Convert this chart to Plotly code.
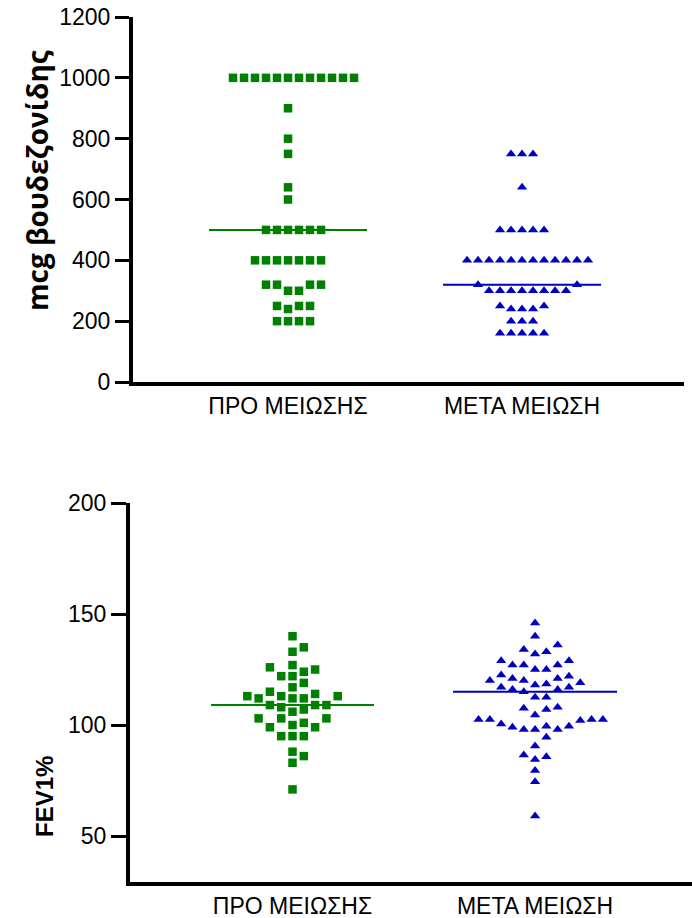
import numpy as np
import plotly.graph_objects as go

W, H = 692, 918

categories = ["ΠΡΟ ΜΕΙΩΣΗΣ", "ΜΕΤΑ ΜΕΙΩΣΗ"]

# Budesonide dose (mcg)
dose_pre = [1000, 1000, 1000, 1000, 1000, 1000, 1000, 1000, 1000, 1000, 1000, 1000,
            900, 800, 750, 640, 600,
            500, 500, 500, 500, 500, 500,
            400, 400, 400, 400, 400, 400, 400,
            320, 320, 320, 320, 300, 300,
            250, 250, 250, 240,
            200, 200, 200, 200]
dose_post = [750, 750, 750, 640,
             500, 500, 500, 500, 500,
             400, 400, 400, 400, 400, 400, 400, 400, 400, 400, 400, 400,
             320, 320,
             300, 300, 300, 300, 300, 300, 300, 300,
             250, 250, 240, 240, 240,
             200, 200, 200,
             160, 160, 160, 160, 160]

# FEV1 %
fev_pre = [140, 135, 133, 126, 127, 125, 122, 122, 124, 119, 117, 115, 114, 113, 113, 113,
           112, 112, 112, 109, 109, 109, 107, 108, 106, 103, 103, 103, 101, 99, 99, 100,
           95, 95, 95, 88, 86, 83, 71]
fev_post = [146, 140, 136, 134, 133, 132, 129, 129, 127, 127, 127, 125, 125, 122.5, 121, 122,
            121, 120, 120, 119, 118.5, 117, 116, 117, 118, 116, 115, 112.5, 112.5, 108, 107,
            107.5, 104.5, 102.5, 102.5, 100.5, 99.5, 98, 98, 98, 99, 99.5, 102, 102.5, 102.5,
            94.5, 90.5, 86.5, 84.5, 85.7, 79.5, 74.5, 59]

dose_ticks = [0, 200, 400, 600, 800, 1000, 1200]
fev_ticks = [50, 100, 150, 200]

GREEN = "#008000"
BLUE = "#0000C0"
FONT = "Liberation Sans, Arial, sans-serif"

# layout geometry (paper fractions)
top_xdom = [133 / W, 684 / W]
top_ydom = [(H - 382) / H, (H - 17) / H]
bot_xdom = [130 / W, 1.0]
bot_ydom = [(H - 882) / H, (H - 503) / H]
top_xrange = [0.3376, 2.692]
bot_xrange = [0.33, 2.647]
top_yrange = [0, 1200]
bot_yrange = [29.3, 200]


def px_per_unit(dom, rng, size):
    return (dom[1] - dom[0]) * size / (rng[1] - rng[0])


def swarm(values, ypx, step, gap):
    """Beeswarm column offsets (in column units) computed from the values."""
    vals = np.asarray(values, dtype=float)
    order = np.argsort(vals, kind="stable")
    cand = [0]
    for n in range(1, 60):
        cand += [n, -n]
    placed = []
    offs = np.zeros(len(vals))
    for i in order:
        y = vals[i] * ypx
        for c in cand:
            if all(not (pc == c and abs(py - y) < gap) for pc, py in placed):
                break
        placed.append((c, y))
        offs[i] = c
    return offs * step


fig = go.Figure()


def add_group(vals, center, xref, yref, color, symbol, size, ypx, xpx, step_px, gap_px, half_px):
    offs = swarm(vals, ypx, step_px / xpx, gap_px)
    fig.add_trace(go.Scatter(
        x=center + offs, y=vals, mode="markers", xaxis=xref, yaxis=yref,
        marker=dict(symbol=symbol, size=size, color=color, line=dict(width=0)),
        showlegend=False, hoverinfo="y", cliponaxis=False))
    med = float(np.median(vals))
    hw = half_px / xpx
    fig.add_trace(go.Scatter(
        x=[center - hw, center + hw], y=[med, med], mode="lines", xaxis=xref, yaxis=yref,
        line=dict(color=color, width=2), showlegend=False, hoverinfo="skip"))


t_xpx = px_per_unit(top_xdom, top_xrange, W)
t_ypx = px_per_unit(top_ydom, top_yrange, H)
b_xpx = px_per_unit(bot_xdom, bot_xrange, W)
b_ypx = px_per_unit(bot_ydom, bot_yrange, H)

add_group(dose_pre, 1, "x", "y", GREEN, "square", 8.5, t_ypx, t_xpx, 11, 10, 79)
add_group(dose_post, 2, "x", "y", BLUE, "triangle-up", 9, t_ypx, t_xpx, 11, 10, 79)
add_group(fev_pre, 1, "x2", "y2", GREEN, "square", 8.5, b_ypx, b_xpx, 11.3, 10, 81.5)
add_group(fev_post, 2, "x2", "y2", BLUE, "triangle-up", 9, b_ypx, b_xpx, 11.3, 10, 82)

axis_common = dict(showgrid=False, zeroline=False, showline=True, linecolor="black",
                   linewidth=4, automargin=False,
                   tickfont=dict(family=FONT, size=23, color="black"))

fig.update_layout(
    width=W, height=H, margin=dict(l=0, r=0, t=0, b=0, autoexpand=False),
    paper_bgcolor="white", plot_bgcolor="white", showlegend=False,
    xaxis=dict(domain=top_xdom, range=top_xrange, anchor="y", tickvals=[1, 2],
               ticktext=categories, ticks="", ticklabelstandoff=0, **axis_common),
    yaxis=dict(domain=top_ydom, range=top_yrange, anchor="x", tickvals=dose_ticks,
               ticks="outside", ticklen=14, tickwidth=3, tickcolor="black", **axis_common),
    xaxis2=dict(domain=bot_xdom, range=bot_xrange, anchor="y2", tickvals=[1, 2],
                ticktext=categories, ticks="", ticklabelstandoff=0, **axis_common),
    yaxis2=dict(domain=bot_ydom, range=bot_yrange, anchor="x2", tickvals=fev_ticks,
                ticks="outside", ticklen=15, tickwidth=3, tickcolor="black", **axis_common),
    annotations=[
        dict(text="<b>mcg βουδεζονίδης</b>", textangle=-90, x=37 / W, y=(H - 181) / H,
             xref="paper", yref="paper", showarrow=False, xanchor="center", yanchor="middle",
             font=dict(family="Open Sans, sans-serif", size=28, color="black")),
        dict(text="<b>FEV1%</b>", textangle=-90, x=44 / W, y=(H - 797) / H,
             xref="paper", yref="paper", showarrow=False, xanchor="center", yanchor="middle",
             font=dict(family=FONT, size=24, color="black")),
    ],
)

fig.write_html("out.html")
